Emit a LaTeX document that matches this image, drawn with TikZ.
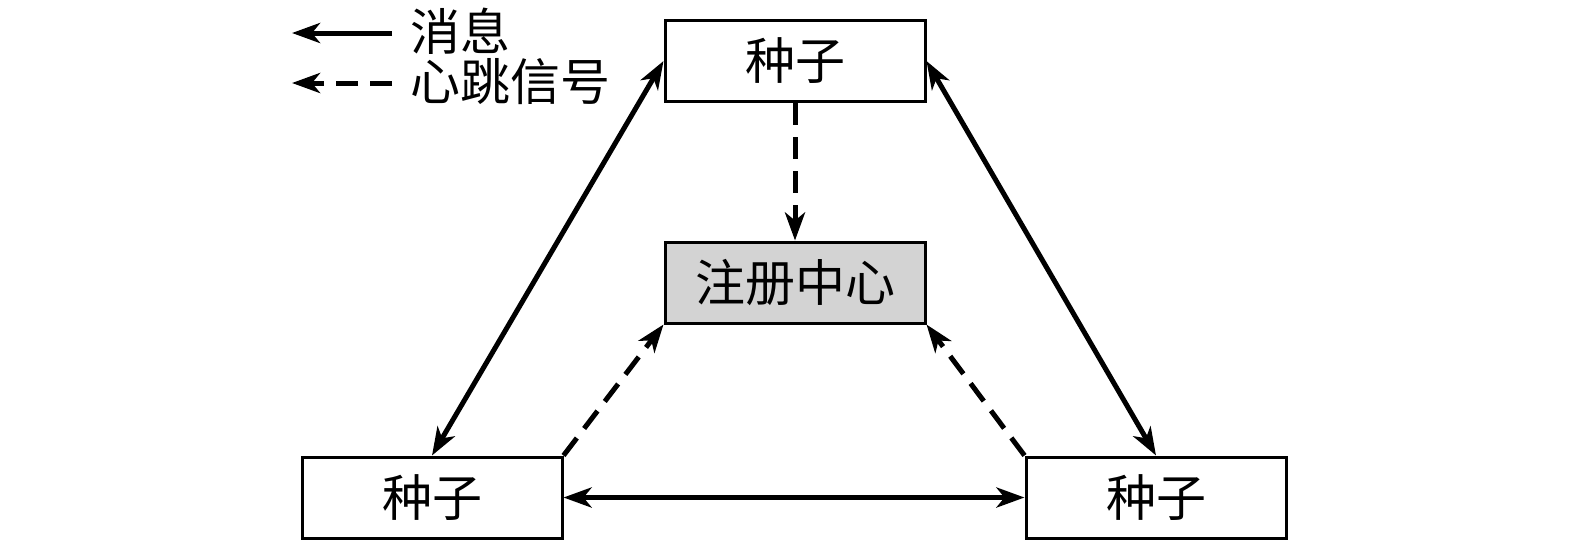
\documentclass[tikz,border=0pt]{standalone}
\usepackage{fontspec}
\setmainfont{Noto Sans CJK SC}
\usetikzlibrary{arrows.meta}
\definecolor{boxgray}{HTML}{D3D3D3}
\begin{document}
\begin{tikzpicture}[x=0.5pt,y=-0.5pt,
  seedbox/.style={draw,line width=1.5pt,minimum width=130pt,minimum height=40.5pt,inner sep=0pt,font=\fontsize{25pt}{29pt}\selectfont},
  tip/.style={Stealth[length=14pt,width=10pt,inset=4pt]},
  msg/.style={line width=2.5pt,-{Stealth[length=14pt,width=10pt,inset=4pt]}},
  msgboth/.style={line width=2.5pt,{Stealth[length=14pt,width=10pt,inset=4pt]}-{Stealth[length=14pt,width=10pt,inset=4pt]}},
  beat/.style={line width=2.5pt,dash pattern=on 11pt off 6pt,-{Stealth[length=14pt,width=10pt,inset=4pt]}},
  legtext/.style={anchor=west,inner sep=0pt,font=\fontsize{25pt}{29pt}\selectfont}]
\useasboundingbox (0,0) rectangle (1575,543);
\node[seedbox] (top) at (795,61) {种子};
\node[seedbox,fill=boxgray] (reg) at (795,282.5) {注册中心};
\node[seedbox] (bl) at (432,497.5) {种子};
\node[seedbox] (br) at (1156,497.5) {种子};
\draw[msgboth] (bl.north) -- (top.west);
\draw[msgboth] (top.east) -- (br.north);
\draw[msgboth] (bl.east) -- (br.west);
\draw[beat] (top.south) -- (reg.north);
\draw[beat] (bl.north east) -- (reg.south west);
\draw[beat] (br.north west) -- (reg.south east);
% legend
\coordinate (l1s) at (392,33);
\coordinate (l1e) at (292,33);
\coordinate (l2s) at (392,83);
\coordinate (l2e) at (292,83);
\draw[msg] (l1s) -- (l1e);
\draw[beat] (l2s) -- (l2e);
\node[legtext] (t1) at (410,31) {消息};
\node[legtext] (t2) at (410,82) {心跳信号};
\end{tikzpicture}
\end{document}
